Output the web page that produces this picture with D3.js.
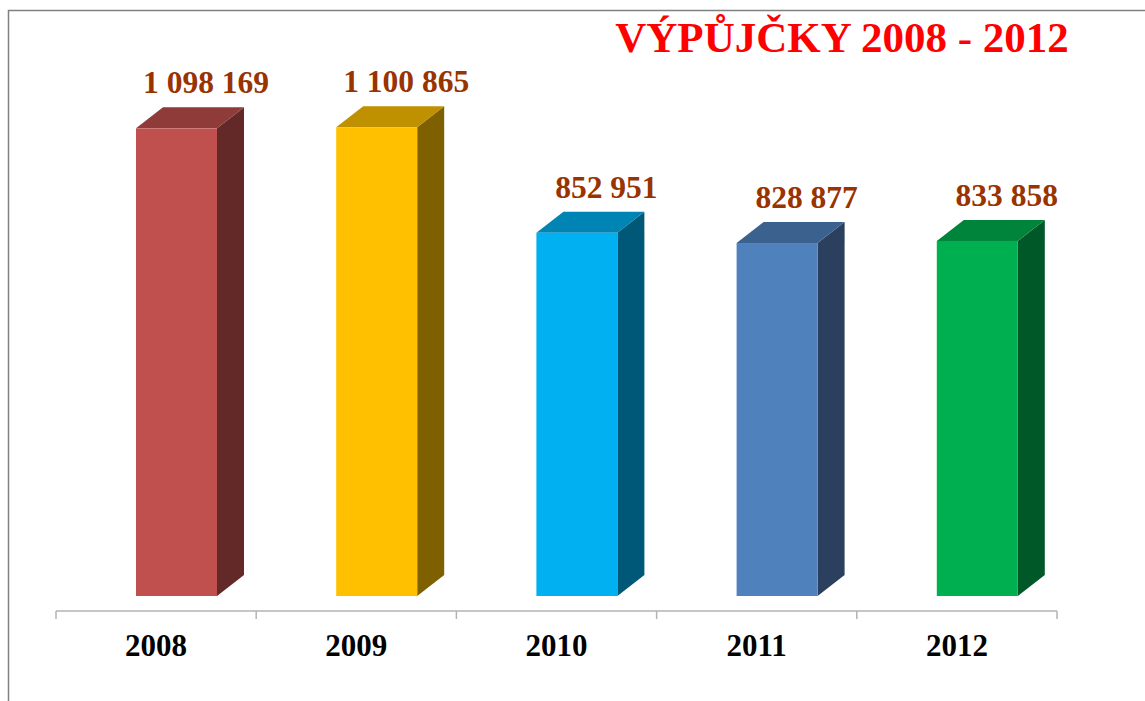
<!DOCTYPE html>
<html>
<head>
<meta charset="utf-8">
<script src="https://cdn.jsdelivr.net/npm/d3@7"></script>
<style>
  body { margin: 0; background: #fff; }
  svg { display: block; }
</style>
</head>
<body>
<svg id="chart" width="1145" height="701"></svg>
<script>
// data
const years = ["2008", "2009", "2010", "2011", "2012"];
const loans = [1098169, 1100865, 852951, 828877, 833858];
const labels = ["1 098 169", "1 100 865", "852 951", "828 877", "833 858"];

// barvy: přední, vrchní, boční stěna
const frontColors = ["#C0504D", "#FFC000", "#00B0F0", "#4F81BD", "#00B050"];
const topColors   = ["#8E3B39", "#BF9000", "#0084B4", "#3B618E", "#00843C"];
const sideColors  = ["#632828", "#7F6000", "#005878", "#2A405E", "#005828"];

const svg = d3.select("#chart");
const W = 1145, H = 701;

// rámeček
svg.append("path")
  .attr("d", `M8.5,${H} L8.5,10.5 L${W},10.5`)
  .attr("fill", "none")
  .attr("stroke", "#808080")
  .attr("stroke-width", 1.5);

const x = d3.scaleBand().domain(years).range([56, 1057]).padding(0);
const y = d3.scaleLinear().domain([0, 1200000]).range([596, 85]);

const dx = 27, dy = 21;      // hloubka 3D
const frontOff = 80, barW = 81;

const g = svg.append("g");
years.forEach((yr, i) => {
  const x0 = x(yr) + frontOff;
  const x1 = x0 + barW;
  const yTop = y(loans[i]);
  const yBot = y(0);
  // boční stěna
  g.append("path")
    .attr("d", `M${x1},${yTop} L${x1 + dx},${yTop - dy} L${x1 + dx},${yBot - dy} L${x1},${yBot} Z`)
    .attr("fill", sideColors[i]);
  // vrch
  g.append("path")
    .attr("d", `M${x0},${yTop} L${x0 + dx},${yTop - dy} L${x1 + dx},${yTop - dy} L${x1},${yTop} Z`)
    .attr("fill", topColors[i]);
  // přední stěna
  g.append("rect")
    .attr("x", x0).attr("y", yTop)
    .attr("width", barW).attr("height", yBot - yTop)
    .attr("fill", frontColors[i]);
  // popisek hodnoty
  g.append("text")
    .attr("x", x0 + 70)
    .attr("y", yTop - dy - 14)
    .attr("text-anchor", "middle")
    .attr("font-family", "Liberation Serif, Times New Roman, serif")
    .attr("font-weight", "bold")
    .attr("font-size", "31.5px")
    .attr("fill", "#993300")
    .text(labels[i]);
});

// osa x
const axis = svg.append("g").attr("transform", "translate(0,611)");
axis.append("line")
  .attr("x1", 56).attr("x2", 1057).attr("y1", 0).attr("y2", 0)
  .attr("stroke", "#b3b3b3").attr("stroke-width", 1.5);
const ticks = years.map(yr => x(yr)).concat([x.range()[1]]);
axis.selectAll(".tk").data(ticks).enter().append("line")
  .attr("x1", d => d).attr("x2", d => d)
  .attr("y1", 0).attr("y2", 8)
  .attr("stroke", "#b3b3b3").attr("stroke-width", 1.5);
axis.selectAll(".lbl").data(years).enter().append("text")
  .attr("x", d => x(d) + x.bandwidth() / 2)
  .attr("y", 45)
  .attr("text-anchor", "middle")
  .attr("font-family", "Liberation Serif, Times New Roman, serif")
  .attr("font-weight", "bold")
  .attr("font-size", "31px")
  .attr("fill", "#000")
  .text(d => d);

// titulek
svg.append("text")
  .attr("x", 842)
  .attr("y", 52)
  .attr("text-anchor", "middle")
  .attr("font-family", "Liberation Serif, Times New Roman, serif")
  .attr("font-weight", "bold")
  .attr("font-size", "43px")
  .attr("fill", "#FF0000")
  .text("VÝPŮJČKY 2008 - 2012");
</script>
</body>
</html>
